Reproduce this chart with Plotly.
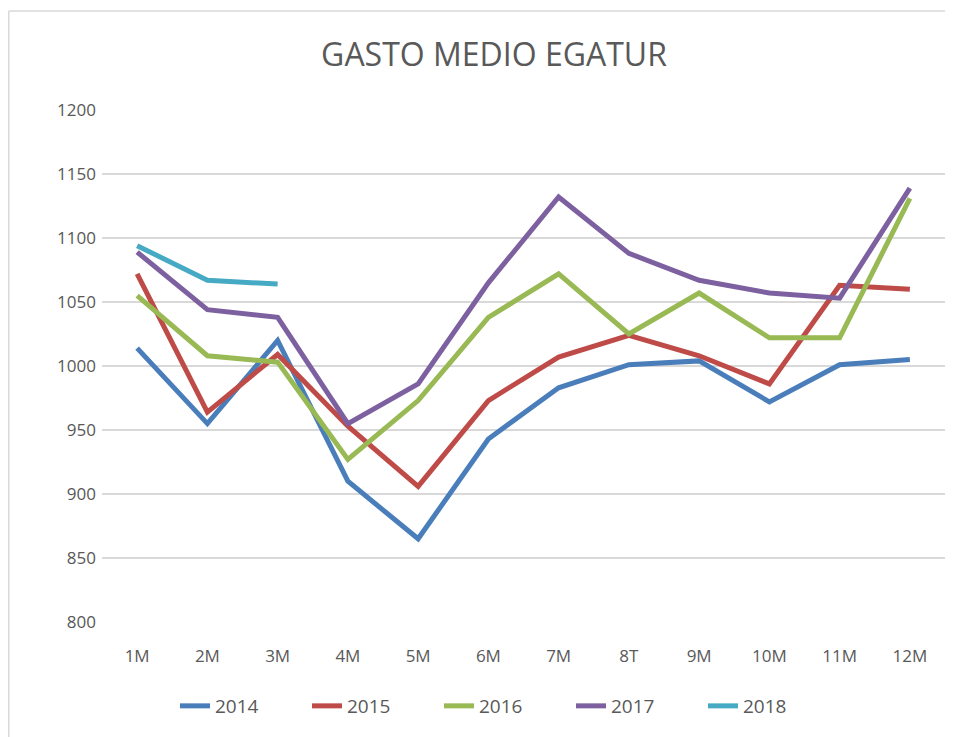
import plotly.graph_objects as go

categories = ["1M", "2M", "3M", "4M", "5M", "6M", "7M", "8T", "9M", "10M", "11M", "12M"]
s2014 = [1014, 955, 1020, 910, 865, 943, 983, 1001, 1004, 972, 1001, 1005]
s2015 = [1072, 964, 1009, 953, 906, 973, 1007, 1024, 1008, 986, 1063, 1060]
s2016 = [1055, 1008, 1003, 927, 973, 1038, 1072, 1025, 1057, 1022, 1022, 1131]
s2017 = [1089, 1044, 1038, 955, 986, 1065, 1132, 1088, 1067, 1057, 1053, 1139]
s2018 = [1094, 1067, 1064]

series = [
    ("2014", s2014, "#4A7EBB"),
    ("2015", s2015, "#BE4B48"),
    ("2016", s2016, "#98B954"),
    ("2017", s2017, "#7D60A0"),
    ("2018", s2018, "#46AAC5"),
]

fig = go.Figure()
for name, vals, color in series:
    fig.add_trace(go.Scatter(
        x=categories[:len(vals)], y=vals, name=name, mode="lines",
        line=dict(color=color, width=5),
    ))

W, H = 945, 729
L, R, T, B = 94, 8, 102, 115
PW, PH = W - L - R, H - T - B

font_family = "Open Sans"
fig.update_layout(
    width=W, height=H,
    paper_bgcolor="white", plot_bgcolor="white",
    margin=dict(l=L, r=R, t=T, b=B, autoexpand=False),
    title=dict(text="GASTO MEDIO EGATUR", x=486 / W, xanchor="center", xref="container",
               y=1 - 47 / H, yanchor="middle", yref="container",
               font=dict(family=font_family, size=32, color="#595959")),
    font=dict(family=font_family, color="#595959"),
    showlegend=True,
    legend=dict(orientation="h", x=(497 - L) / PW, xanchor="center",
                y=(T + PH - 698) / PH, yanchor="middle",
                font=dict(size=19, color="#595959"), entrywidth=87, entrywidthmode="pixels",
                traceorder="normal"),
    xaxis=dict(type="category", categoryorder="array", categoryarray=categories,
               range=[-0.5, 11.5], showgrid=False, zeroline=False, showline=False,
               ticks="", tickfont=dict(size=17, color="#595959"), ticklabelstandoff=22),
    yaxis=dict(range=[800, 1200], dtick=50, showgrid=True, gridcolor="#D9D9D9",
               gridwidth=1.5, zeroline=False, showline=False, ticks="",
               tickfont=dict(size=17, color="#595959"), ticklabelstandoff=5),
)

# outer chart border (light gray)
bx = (0.75 - L) / PW
by = 1 + (T - 3) / PH
fig.add_shape(type="line", xref="paper", yref="paper",
              x0=bx, x1=1.05, y0=by, y1=by,
              line=dict(color="#D9D9D9", width=1.5))
fig.add_shape(type="line", xref="paper", yref="paper",
              x0=bx, x1=bx, y0=by, y1=-0.3,
              line=dict(color="#D9D9D9", width=1.5))

fig.write_html("out.html")
